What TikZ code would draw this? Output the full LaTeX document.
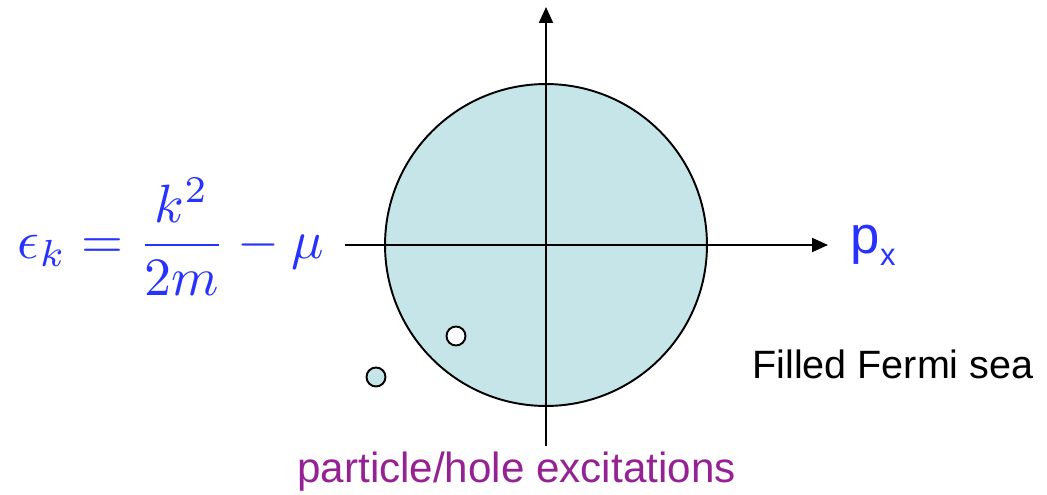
\documentclass[tikz,border=0pt]{standalone}
\usepackage{amsmath}
\usepackage{fontspec}
\newfontfamily\arial{Liberation Sans}
\usetikzlibrary{arrows.meta, positioning}
\definecolor{seablue}{RGB}{197,229,232}
\definecolor{eqblue}{RGB}{40,50,255}
\definecolor{labelpurple}{RGB}{148,34,148}
\tikzset{
  axis/.style={-{Triangle[length=0.32cm, width=0.28cm]}, line width=1.1pt, draw=black},
  sea/.style={circle, draw=black, line width=1.1pt, fill=seablue,
              minimum size=6.44cm, inner sep=0pt},
  excitation/.style={circle, draw=black, line width=1.1pt,
                     minimum size=0.38cm, inner sep=0pt},
  caption/.style={inner sep=0pt, font=\arial\fontsize{22.5}{27}\selectfont},
}

\begin{document}
\begin{tikzpicture}[x=0.02cm, y=0.02cm]
  \useasboundingbox (0,0) rectangle (1047,494);

  % Fermi sea
  \node[sea] (fermi) at (546,249) {};

  % Axes
  \coordinate (xstart) at (345,249);
  \coordinate (xend) at (828,249);
  \coordinate (ystart) at (546,48);
  \coordinate (yend) at (546,487);
  \draw[axis] (xstart) -- (xend);
  \draw[axis] (ystart) -- (yend);

  % Particle and hole
  \node[excitation, fill=white] (hole) at (456,158) {};
  \node[excitation, fill=seablue] (particle) at (376,117) {};

  % Labels
  \node[inner sep=0pt, text=eqblue, right=0.45cm of xend, font=\arial]
    (px) {\fontsize{30}{34}\selectfont p\raisebox{-0.24cm}{\fontsize{17.6}{20}\selectfont x}};
  \node[inner sep=0pt, text=eqblue, anchor=east, scale=3.07, font=\normalsize]
    (energy) at (325,257) {$\displaystyle \epsilon_k = \frac{k^2}{2m} - \mu$};
  \node[caption, anchor=base west] (sealabel) at (752,116) {Filled Fermi sea};
  \node[caption, text=labelpurple, anchor=base west,
        font=\arial\fontsize{24}{29}\selectfont] (exlabel) at (297,12)
    {particle/hole excitations};
\end{tikzpicture}
\end{document}
